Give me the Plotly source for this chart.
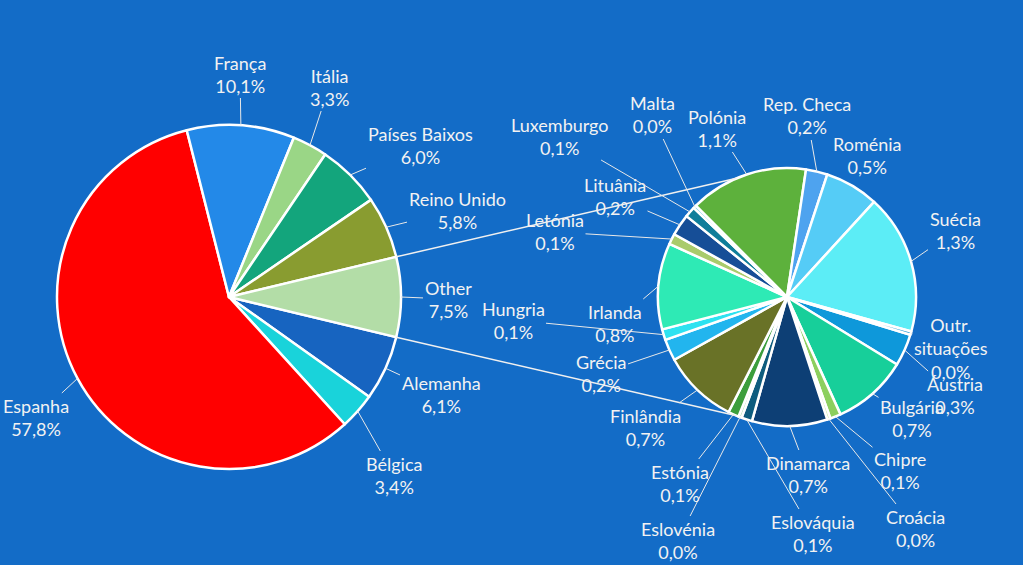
import math
import plotly.graph_objects as go

# main pie (share of total, %)
main_labels = ["Alemanha", "Bélgica", "Espanha", "França", "Itália",
               "Países Baixos", "Reino Unido", "Other"]
main_values = [6.1, 3.4, 57.8, 10.1, 3.3, 6.0, 5.8, 7.5]
main_colors = ["#1764C0", "#19D3DA", "#FF0000", "#2389E8", "#9AD686",
               "#13A57C", "#899C30", "#B3DDA7"]

# secondary pie: breakdown of "Other" (share of total, %)
sub_labels = ["Áustria", "Bulgária", "Chipre", "Croácia", "Dinamarca", "Eslováquia",
              "Eslovénia", "Estónia", "Finlândia", "Grécia", "Hungria", "Irlanda",
              "Letónia", "Lituânia", "Luxemburgo", "Malta", "Polónia", "Rep. Checa",
              "Roménia", "Suécia", "Outr. situações"]
sub_values = [0.3, 0.7, 0.1, 0.03, 0.7, 0.1,
              0.03, 0.1, 0.7, 0.2, 0.1, 0.8,
              0.1, 0.2, 0.1, 0.03, 1.1, 0.2,
              0.5, 1.3, 0.03]
sub_colors = ["#0E98DA", "#17CF9A", "#8CCF5E", "#C8E89A", "#0D3F75", "#0E5C7E",
              "#B0E0B0", "#3C9E3C", "#697227", "#22B5EE", "#2DE2F0", "#2EEAB5",
              "#A9CB6B", "#164E97", "#0F7E9A", "#6FCCEA", "#5DB13C", "#4EA3EF",
              "#55CCF6", "#5CEDF6", "#1D9BD6"]

# label text centres (px)
label_pos = {
    "França": (240, 74), "Itália": (329, 87), "Países Baixos": (420, 145),
    "Reino Unido": (457, 210), "Other": (448, 299), "Alemanha": (441, 394),
    "Bélgica": (394, 475), "Espanha": (36, 417),
    "Malta": (652, 115), "Polónia": (717, 128), "Rep. Checa": (807, 116),
    "Roménia": (867, 155), "Suécia": (955, 231), "Outr. situações": (951, 348),
    "Áustria": (955, 395), "Bulgária": (912, 418), "Chipre": (900, 470),
    "Croácia": (915, 528), "Dinamarca": (808, 474), "Eslováquia": (813, 533),
    "Eslovénia": (678, 540), "Estónia": (680, 483), "Finlândia": (645, 427),
    "Grécia": (601, 373), "Hungria": (513, 320), "Irlanda": (615, 323),
    "Letónia": (555, 232), "Lituânia": (615, 197), "Luxemburgo": (560, 136),
}
no_leader = {"Roménia"}

W, H = 1023, 565
BG = "#136CC7"
MAIN_C, MAIN_R = (229, 297), 172
SUB_C, SUB_R = (787, 297), 129


def domain(c, r):
    return dict(x=[(c[0] - r) / W, (c[0] + r) / W],
                y=[1 - (c[1] + r) / H, 1 - (c[1] - r) / H])


def edge_px(c, r, ang):
    a = math.radians(ang)
    return c[0] + r * math.sin(a), c[1] - r * math.cos(a)


def mid_angles(values, rot):
    tot = sum(values)
    out, cur = [], rot
    for v in values:
        span = v / tot * 360
        out.append(cur + span / 2)
        cur += span
    return out


main_rot = 90 + main_values[-1] / sum(main_values) * 180
idx = sub_labels.index("Rep. Checa")
sub_rot = (8.5 - sum(sub_values[:idx]) / sum(sub_values) * 360) % 360

fig = go.Figure()
fig.add_trace(go.Pie(labels=main_labels, values=main_values, sort=False,
                     direction="clockwise", rotation=main_rot,
                     marker=dict(colors=main_colors, line=dict(color="white", width=2.5)),
                     textinfo="none", domain=domain(MAIN_C, MAIN_R), hoverinfo="label+value"))
fig.add_trace(go.Pie(labels=sub_labels, values=sub_values, sort=False,
                     direction="clockwise", rotation=sub_rot,
                     marker=dict(colors=sub_colors, line=dict(color="white", width=2.5)),
                     textinfo="none", domain=domain(SUB_C, SUB_R), hoverinfo="label+value"))

annotations = []
for labels, values, rot, c, r in [(main_labels, main_values, main_rot, MAIN_C, MAIN_R),
                                  (sub_labels, sub_values, sub_rot, SUB_C, SUB_R)]:
    for name, v, ang in zip(labels, values, mid_angles(values, rot)):
        tx, ty = label_pos[name]
        text = name.replace(" situações", "<br>situações") + "<br>" + f"{v:.1f}%".replace(".", ",")
        px, py = edge_px(c, r, ang)
        if name in no_leader:
            annotations.append(dict(x=tx / W, y=1 - ty / H, xref="paper", yref="paper",
                                    xanchor="center", yanchor="middle",
                                    text=text, showarrow=False))
        else:
            annotations.append(dict(x=px / W, y=1 - py / H, xref="paper", yref="paper",
                                    ax=tx - px, ay=ty - py,
                                    text=text, showarrow=True, arrowhead=0, arrowwidth=1,
                                    arrowcolor="#E8E8E8", standoff=0))

# series lines from the "Other" slice to the secondary pie
other_half = main_values[-1] / sum(main_values) * 180
shapes = []
for a_main, a_sub in [(90 - other_half, -23), (90 + other_half, 203)]:
    x0, y0 = edge_px(MAIN_C, MAIN_R, a_main)
    x1, y1 = edge_px(SUB_C, SUB_R, a_sub)
    shapes.append(dict(type="line", xref="paper", yref="paper",
                       x0=x0 / W, y0=1 - y0 / H, x1=x1 / W, y1=1 - y1 / H,
                       line=dict(color="#F0F0F0", width=1.5)))

fig.update_layout(
    width=W, height=H, autosize=False,
    margin=dict(l=0, r=0, t=0, b=0),
    paper_bgcolor=BG, plot_bgcolor=BG,
    showlegend=False,
    font=dict(family="Lato", size=18, color="#F2F2F2"),
    annotations=annotations, shapes=shapes,
)

fig.write_html("out.html", config={"displayModeBar": False},
               post_script="document.body.style.margin='0';")
